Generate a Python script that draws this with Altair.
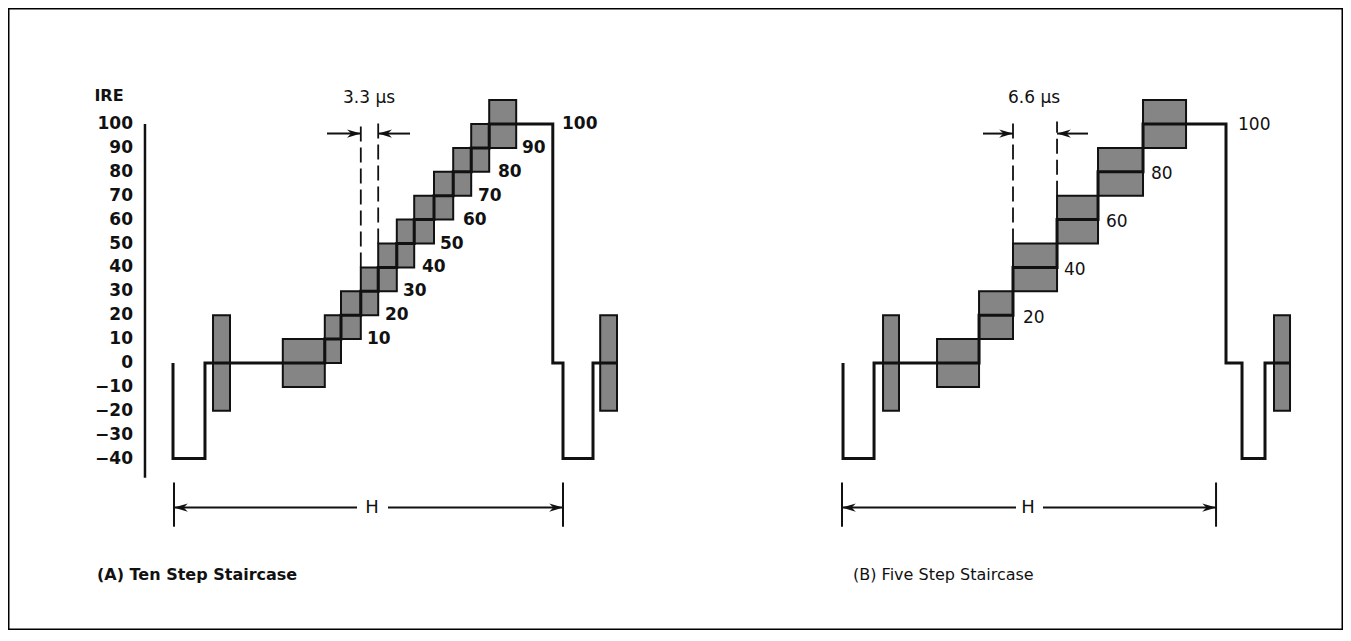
import altair as alt
import pandas as pd

# ---------------- data ----------------
# time in microseconds from the start of each TV line, level in IRE
OFFSET_A = 27.5      # where panel A's line starts on the shared time axis
OFFSET_B = 139.17    # where panel B's line starts

# waveform breakpoints (step-after)
wave_a_t = [0, 0, 5.33, 25.3, 28.0, 31.3, 34.2, 37.3, 40.2, 43.5, 46.7, 49.7, 52.7, 63.3, 65.0, 70.0, 74.0]
wave_a_ire = [0, -40, 0, 10, 20, 30, 40, 50, 60, 70, 80, 90, 100, 0, -40, 0, 0]
wave_b_t = [0, 0, 5.17, 22.67, 28.33, 35.67, 42.5, 50.0, 63.83, 66.5, 70.33, 74.5]
wave_b_ire = [0, -40, 0, 20, 40, 60, 80, 100, 0, -40, 0, 0]

# modulated (chroma) packets on each step, 20 IRE p-p
box_a_start = [18.3, 25.3, 28.0, 31.3, 34.2, 37.3, 40.2, 43.5, 46.7, 49.7, 52.7]
box_a_end = [25.3, 28.0, 31.3, 34.2, 37.3, 40.2, 43.5, 46.7, 49.7, 52.7, 57.2]
box_a_level = [0, 10, 20, 30, 40, 50, 60, 70, 80, 90, 100]
box_b_start = [15.67, 22.67, 28.33, 35.67, 42.5, 50.0]
box_b_end = [22.67, 28.33, 35.67, 42.5, 50.0, 57.17]
box_b_level = [0, 20, 40, 60, 80, 100]
CHROMA_HALF = 10

# colour bursts, 40 IRE p-p
burst_a_start = [6.67, 71.2]
burst_a_end = [9.5, 74.0]
burst_b_start = [6.67, 71.83]
burst_b_end = [9.33, 74.5]
BURST_HALF = 20

# IRE scale of panel A
tick_values = [100, 90, 80, 70, 60, 50, 40, 30, 20, 10, 0, -10, -20, -30, -40]
tick_labels = ["100", "90", "80", "70", "60", "50", "40", "30", "20", "10", "0",
               "\u221210", "\u221220", "\u221230", "\u221240"]
TICK_LABEL_T = -6.67
AXIS_LINE_T = -4.67
AXIS_LINE_IRE = [-48, 100]

# step labels
step_a_t = [32.33, 35.33, 38.33, 41.5, 44.5, 48.33, 50.83, 54.17, 58.17, 64.83]
step_a_ire = [10, 20, 30, 40, 50, 60, 70, 80, 90, 100]
step_a_text = ["10", "20", "30", "40", "50", "60", "70", "80", "90", "100"]
step_b_t = [30.0, 36.83, 43.83, 51.33, 65.83]
step_b_ire = [19, 39, 59, 79, 99.5]
step_b_text = ["20", "40", "60", "80", "100"]

# step-width markers
dash_a_t = [31.3, 34.2]
dash_a_low = [40, 50]
dash_b_t = [28.33, 35.67]
dash_b_low = [50, 70]
DASH_TOP = 101
MARK_ARROW_IRE = 96
mark_a_shaft = [(25.67, 31.3), (39.5, 34.2)]
mark_b_shaft = [(23.33, 28.33), (40.83, 35.67)]
width_label_a = ("3.3 \u03bcs", 32.67, 111)
width_label_b = ("6.6 \u03bcs", 31.83, 111)

# H dimension
h_a_ticks = [0.17, 65.0]
h_b_ticks = [-0.17, 62.17]
H_TICK_IRE = [-50, -68.5]
H_ARROW_IRE = -60.5
h_a_shaft = [(0.17, 30.67), (35.83, 65.0)]
h_b_shaft = [(-0.17, 28.83), (33.33, 62.17)]
h_a_label_t = 33.17
h_b_label_t = 30.83

captions = ["(A) Ten Step Staircase", "(B) Five Step Staircase"]
caption_t = [-12.67, 1.67]
CAPTION_IRE = -88.7
IRE_TITLE = ("IRE", -10.67, 111.7)

# ---------------- tables ----------------
wave = pd.DataFrame(
    [{"panel": "A", "order": i, "t": OFFSET_A + t, "ire": v} for i, (t, v) in enumerate(zip(wave_a_t, wave_a_ire))]
    + [{"panel": "B", "order": i, "t": OFFSET_B + t, "ire": v} for i, (t, v) in enumerate(zip(wave_b_t, wave_b_ire))]
)

boxes = pd.DataFrame(
    [{"t": OFFSET_A + s, "t2": OFFSET_A + e, "lo": l - CHROMA_HALF, "hi": l + CHROMA_HALF}
     for s, e, l in zip(box_a_start, box_a_end, box_a_level)]
    + [{"t": OFFSET_B + s, "t2": OFFSET_B + e, "lo": l - CHROMA_HALF, "hi": l + CHROMA_HALF}
       for s, e, l in zip(box_b_start, box_b_end, box_b_level)]
    + [{"t": OFFSET_A + s, "t2": OFFSET_A + e, "lo": -BURST_HALF, "hi": BURST_HALF}
       for s, e in zip(burst_a_start, burst_a_end)]
    + [{"t": OFFSET_B + s, "t2": OFFSET_B + e, "lo": -BURST_HALF, "hi": BURST_HALF}
       for s, e in zip(burst_b_start, burst_b_end)]
)

ticks = pd.DataFrame({"t": [OFFSET_A + TICK_LABEL_T] * len(tick_values), "ire": tick_values, "label": tick_labels})
axis_line = pd.DataFrame({"t": [OFFSET_A + AXIS_LINE_T], "lo": [AXIS_LINE_IRE[0]], "hi": [AXIS_LINE_IRE[1]]})

step_a = pd.DataFrame({"t": [OFFSET_A + t for t in step_a_t], "ire": step_a_ire, "label": step_a_text})
step_b = pd.DataFrame({"t": [OFFSET_B + t for t in step_b_t], "ire": step_b_ire, "label": step_b_text})

dashes = pd.DataFrame(
    [{"t": OFFSET_A + t, "lo": lo, "hi": DASH_TOP} for t, lo in zip(dash_a_t, dash_a_low)]
    + [{"t": OFFSET_B + t, "lo": lo, "hi": DASH_TOP} for t, lo in zip(dash_b_t, dash_b_low)]
)

shafts = pd.DataFrame(
    [{"t": OFFSET_A + a, "t2": OFFSET_A + b, "ire": MARK_ARROW_IRE} for a, b in mark_a_shaft]
    + [{"t": OFFSET_B + a, "t2": OFFSET_B + b, "ire": MARK_ARROW_IRE} for a, b in mark_b_shaft]
    + [{"t": OFFSET_A + a, "t2": OFFSET_A + b, "ire": H_ARROW_IRE} for a, b in h_a_shaft]
    + [{"t": OFFSET_B + a, "t2": OFFSET_B + b, "ire": H_ARROW_IRE} for a, b in h_b_shaft]
)

def heads(offset, shaft_pairs, ire):
    # marker arrows point inward: tip at the second value of each pair
    return [{"t": offset + b, "ire": ire, "ang": 0 if b > a else 180} for a, b in shaft_pairs]

arrowheads = pd.DataFrame(
    heads(OFFSET_A, mark_a_shaft, MARK_ARROW_IRE)
    + heads(OFFSET_B, mark_b_shaft, MARK_ARROW_IRE)
    + [{"t": OFFSET_A + h_a_shaft[0][0], "ire": H_ARROW_IRE, "ang": 180},
       {"t": OFFSET_A + h_a_shaft[1][1], "ire": H_ARROW_IRE, "ang": 0},
       {"t": OFFSET_B + h_b_shaft[0][0], "ire": H_ARROW_IRE, "ang": 180},
       {"t": OFFSET_B + h_b_shaft[1][1], "ire": H_ARROW_IRE, "ang": 0}]
)

h_ticks = pd.DataFrame(
    [{"t": OFFSET_A + t, "lo": H_TICK_IRE[1], "hi": H_TICK_IRE[0]} for t in h_a_ticks]
    + [{"t": OFFSET_B + t, "lo": H_TICK_IRE[1], "hi": H_TICK_IRE[0]} for t in h_b_ticks]
)
h_labels = pd.DataFrame({"t": [OFFSET_A + h_a_label_t, OFFSET_B + h_b_label_t], "ire": [H_ARROW_IRE] * 2, "label": ["H", "H"]})

width_labels = pd.DataFrame({
    "t": [OFFSET_A + width_label_a[1], OFFSET_B + width_label_b[1]],
    "ire": [width_label_a[2], width_label_b[2]],
    "label": [width_label_a[0], width_label_b[0]],
})

cap_a = pd.DataFrame({"t": [OFFSET_A + caption_t[0]], "ire": [CAPTION_IRE], "label": [captions[0]]})
cap_b = pd.DataFrame({"t": [OFFSET_B + caption_t[1]], "ire": [CAPTION_IRE], "label": [captions[1]]})
ire_title = pd.DataFrame({"t": [OFFSET_A + IRE_TITLE[1]], "ire": [IRE_TITLE[2]], "label": [IRE_TITLE[0]]})

# ---------------- chart ----------------
INK = "#111111"
FONT = "DejaVu Sans"
xs = alt.Scale(domain=[0, 222.5], nice=False, zero=False)
ys = alt.Scale(domain=[-111.72, 148.54], nice=False, zero=False)

def X(f="t"):
    return alt.X(f + ":Q", scale=xs, axis=None)

def Y(f="ire"):
    return alt.Y(f + ":Q", scale=ys, axis=None)

def text_layer(df, align, size, weight="normal"):
    return alt.Chart(df).mark_text(align=align, baseline="middle", font=FONT, fontSize=size,
                                   fontWeight=weight, color=INK).encode(x=X(), y=Y(), text="label:N")

box_layer = alt.Chart(boxes).mark_rect(fill="#858585", stroke=INK, strokeWidth=2).encode(
    x=X(), x2="t2:Q", y=Y("lo"), y2="hi:Q")

wave_layer = alt.Chart(wave).mark_line(interpolate="step-after", color=INK, strokeWidth=3).encode(
    x=X(), y=Y(), detail="panel:N", order="order:Q")

axis_layer = alt.Chart(axis_line).mark_rule(color=INK, strokeWidth=2.5).encode(
    x=X(), y=Y("lo"), y2="hi:Q")

dash_layer = alt.Chart(dashes).mark_rule(color=INK, strokeWidth=1.8, strokeDash=[15, 6]).encode(
    x=X(), y=Y("lo"), y2="hi:Q")

shaft_layer = alt.Chart(shafts).mark_rule(color=INK, strokeWidth=2).encode(
    x=X(), x2="t2:Q", y=Y())

ARROW = "M0,0L-2,-0.6L-1.4,0L-2,0.6Z"
head_layer = alt.Chart(arrowheads).mark_point(shape=ARROW, filled=True, size=190, color=INK, opacity=1).encode(
    x=X(), y=Y(), angle=alt.Angle("ang:Q", scale=None))

htick_layer = alt.Chart(h_ticks).mark_rule(color=INK, strokeWidth=2).encode(
    x=X(), y=Y("lo"), y2="hi:Q")

chart = alt.layer(
    box_layer, wave_layer, axis_layer,
    text_layer(ticks, "right", 17, "bold"),
    text_layer(ire_title, "center", 16, "bold"),
    dash_layer, shaft_layer, head_layer, htick_layer,
    text_layer(h_labels, "center", 18),
    text_layer(step_a, "left", 17, "bold"),
    text_layer(step_b, "left", 17),
    text_layer(width_labels, "center", 17),
    text_layer(cap_a, "left", 16, "bold"),
    text_layer(cap_b, "left", 16),
).properties(
    width=1335, height=622, padding=0, autosize="none", background="white",
).configure_view(stroke="#000000", strokeWidth=3)

chart.save("out.html", embed_options={"renderer": "svg", "actions": False})
